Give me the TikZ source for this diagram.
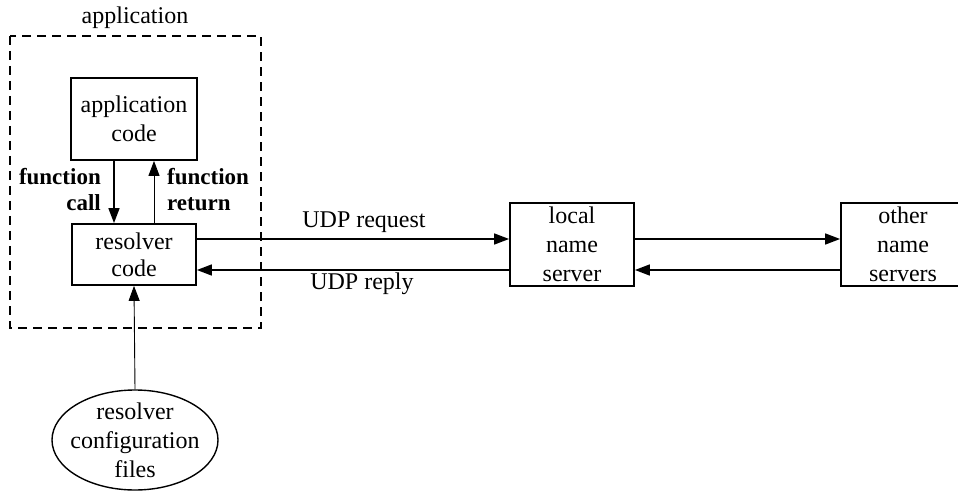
\documentclass[tikz,border=0pt]{standalone}
\usepackage{fontspec}
\setmainfont{Liberation Serif}
\usetikzlibrary{arrows.meta,shapes.geometric}
\begin{document}
\begin{tikzpicture}[x=1pt,y=-1pt,
  every node/.style={font=\fontsize{24}{29}\selectfont},
  boxn/.style={draw,line width=1.8pt,align=center,inner sep=0pt},
  arr/.style={line width=1.5pt,-{Triangle[length=15pt,width=11pt]}},
  thin arr/.style={line width=0.9pt,-{Triangle[length=15pt,width=11pt]}},
  lbl/.style={inner sep=0pt,font=\bfseries\fontsize{23}{26}\selectfont}]
\useasboundingbox (0,0) rectangle (958,494);
\draw[line width=1.3pt,dash pattern=on 9pt off 6pt] (10,36) rectangle (261,328);
\node (applbl) at (135,18) {application};
\node[boxn,minimum width=126pt,minimum height=82pt] (app) at (134,119) {application\\code};
\node[boxn,minimum width=124pt,minimum height=61pt,font=\fontsize{24}{27}\selectfont] (res) at (134,254.5) {resolver\\code};
\node[boxn,minimum width=124pt,minimum height=83pt] (lns) at (572,244.5) {local\\name\\server};
\node[boxn,minimum width=124pt,minimum height=83pt] (ons) at (903,244.5) {other\\name\\servers};
\node[draw,ellipse,line width=1.4pt,minimum width=166pt,minimum height=100pt,inner sep=0pt] (cfg) at (135,440) {};
\node[align=center,inner sep=0pt] (cfgtxt) at (cfg.center) {resolver\\configuration\\files};
% function call / return
\draw[arr] (app.south -| 114,0) -- (res.north -| 114,0);
\draw[thin arr] (res.north -| 154,0) -- (app.south -| 154,0);
\node[lbl,anchor=east,align=right] (fcall) at (101,190) {function\\call};
\node[lbl,anchor=west,align=left] (fret) at (167,190) {function\\return};
% UDP
\draw[arr] (res.east |- 0,239) -- (lns.west |- 0,239);
\draw[arr] (lns.west |- 0,270) -- (res.east |- 0,270);
\node (udpreq) at (364,222) {UDP request};
\node (udprep) at (362,284) {UDP reply};
\draw[arr] (lns.east |- 0,239) -- (ons.west |- 0,239);
\draw[arr] (ons.west |- 0,270) -- (lns.east |- 0,270);
% config
\draw[thin arr] (cfg.north) -- (res.south);
\end{tikzpicture}
\end{document}
